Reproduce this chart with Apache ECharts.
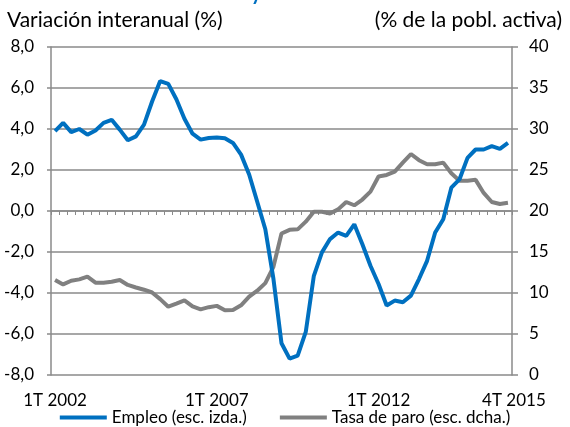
<!DOCTYPE html>
<html>
<head>
<meta charset="utf-8">
<script src="https://cdn.jsdelivr.net/npm/echarts@6/dist/echarts.min.js"></script>
<style>
    html, body { margin: 0; padding: 0; background: #fff; }
</style>
</head>
<body>
<div id="main" style="width: 570px;height:427px;"></div>
<script type="text/javascript">
    // trimestres 1T 2002 ... 1T 2016
    var categories = [];
    for (var y = 2002; y <= 2016; y++) {
        for (var q = 1; q <= 4; q++) {
            if (categories.length < 57) categories.push(q + 'T ' + y);
        }
    }

    // etiquetas visibles del eje X (indice -> texto)
    var xLabelIdx = [0, 20, 40, 56];
    var xLabelText = ['1T 2002', '1T 2007', '1T 2012', '4T 2015'];

    // Empleo, variacion interanual (%) - eje izquierdo
    var empleo = [
        3.9, 4.3, 3.85, 4.0, 3.72, 3.93, 4.3, 4.45, 3.97, 3.45,
        3.64, 4.21, 5.34, 6.34, 6.2, 5.45, 4.5, 3.77, 3.48, 3.56,
        3.59, 3.55, 3.32, 2.75, 1.78, 0.45, -0.89, -3.3, -6.45, -7.2,
        -7.05, -5.9, -3.16, -2.02, -1.37, -1.05, -1.21, -0.65, -1.62, -2.67,
        -3.56, -4.61, -4.37, -4.45, -4.13, -3.32, -2.43, -1.05, -0.4, 1.14,
        1.54, 2.59, 3.0, 3.0, 3.16, 3.03, 3.32
    ];

    // Tasa de paro (% de la poblacion activa) - eje derecho
    var paro = [
        11.6, 11.05, 11.5, 11.66, 12.0, 11.26, 11.26, 11.38, 11.59, 10.98,
        10.67, 10.4, 10.06, 9.25, 8.33, 8.7, 9.1, 8.37, 8.01, 8.27,
        8.43, 7.9, 7.93, 8.5, 9.55, 10.28, 11.2, 13.2, 17.25, 17.7,
        17.76, 18.7, 19.9, 19.9, 19.7, 20.2, 21.1, 20.7, 21.4, 22.36,
        24.2, 24.4, 24.8, 25.9, 26.95, 26.2, 25.7, 25.7, 25.9, 24.6,
        23.7, 23.7, 23.8, 22.2, 21.1, 20.85, 21.0
    ];

    var myChart = echarts.init(document.getElementById('main'));
    var FONT = 'Lato';
    var GRID_COLOR = '#8a8a8a';

    var option = {
        animation: false,
        textStyle: { fontFamily: FONT, color: '#000' },
        title: [
            {
                text: 'Variación interanual (%)',
                left: 2, top: 5,
                textStyle: { fontFamily: FONT, fontSize: 21, fontWeight: 'normal', color: '#000' }
            },
            {
                text: '(% de la pobl. activa)',
                right: 3, top: 5,
                textStyle: { fontFamily: FONT, fontSize: 21, fontWeight: 'normal', color: '#000' }
            }
        ],
        graphic: [{
            type: 'text', left: 251, top: -16,
            style: { text: 'y', fill: '#0070C0', font: 'bold 20px ' + FONT }
        }],
        legend: {
            bottom: -4,
            left: 'center',
            itemGap: 33,
            itemWidth: 47,
            itemHeight: 4,
            icon: 'rect',
            textStyle: { fontFamily: FONT, fontSize: 17, color: '#000' },
            data: ['Empleo (esc. izda.)', 'Tasa de paro (esc. dcha.)']
        },
        grid: { left: 51, right: 58, top: 47, bottom: 52 },
        xAxis: [
            {
                type: 'category',
                data: categories,
                boundaryGap: true,
                axisLine: { onZero: true, onZeroAxisIndex: 0, lineStyle: { color: GRID_COLOR, width: 1.5 } },
                axisTick: { show: true, interval: 0, length: 4, lineStyle: { color: GRID_COLOR } },
                axisLabel: { show: false },
                splitLine: { show: false }
            },
            {
                type: 'category',
                data: categories,
                boundaryGap: true,
                position: 'bottom',
                axisLine: { show: false, onZero: false },
                axisTick: { show: false },
                axisLabel: {
                    interval: 0,
                    margin: 17,
                    fontFamily: FONT,
                    fontSize: 17,
                    color: '#000',
                    formatter: function (v, i) {
                        var k = xLabelIdx.indexOf(i);
                        if (k < 0) return '';
                        return k === xLabelIdx.length - 1 ? '{r|' + xLabelText[k] + '}' : xLabelText[k];
                    },
                    rich: { r: { fontFamily: FONT, fontSize: 17, color: '#000', padding: [0, 0, 0, 12] } }
                }
            }
        ],
        yAxis: [
            {
                type: 'value',
                min: -8, max: 8, interval: 2,
                position: 'left',
                axisLine: { show: true, lineStyle: { color: GRID_COLOR, width: 1.5 } },
                axisTick: { show: true, length: 4, lineStyle: { color: GRID_COLOR, width: 1.5 } },
                splitLine: { show: true, lineStyle: { color: GRID_COLOR, width: 1.5 } },
                axisLabel: {
                    margin: 17, fontSize: 17, fontFamily: FONT, color: '#000',
                    formatter: function (v) { return v.toFixed(1).replace('.', ','); }
                }
            },
            {
                type: 'value',
                min: 0, max: 40, interval: 5,
                position: 'right',
                axisLine: { show: true, lineStyle: { color: GRID_COLOR, width: 1.5 } },
                axisTick: { show: true, length: 6, lineStyle: { color: GRID_COLOR, width: 1.5 } },
                splitLine: { show: false },
                axisLabel: { margin: 17, fontSize: 17, fontFamily: FONT, color: '#000' }
            }
        ],
        series: [
            {
                name: 'Tasa de paro (esc. dcha.)',
                type: 'line',
                yAxisIndex: 1,
                data: paro,
                showSymbol: false,
                symbol: 'none',
                itemStyle: { color: '#808080' },
                lineStyle: { color: '#808080', width: 4 },
                z: 2
            },
            {
                name: 'Empleo (esc. izda.)',
                type: 'line',
                yAxisIndex: 0,
                data: empleo,
                showSymbol: false,
                symbol: 'none',
                itemStyle: { color: '#0070C0' },
                lineStyle: { color: '#0070C0', width: 4 },
                z: 3
            }
        ]
    };

    myChart.setOption(option);
</script>
</body>
</html>
